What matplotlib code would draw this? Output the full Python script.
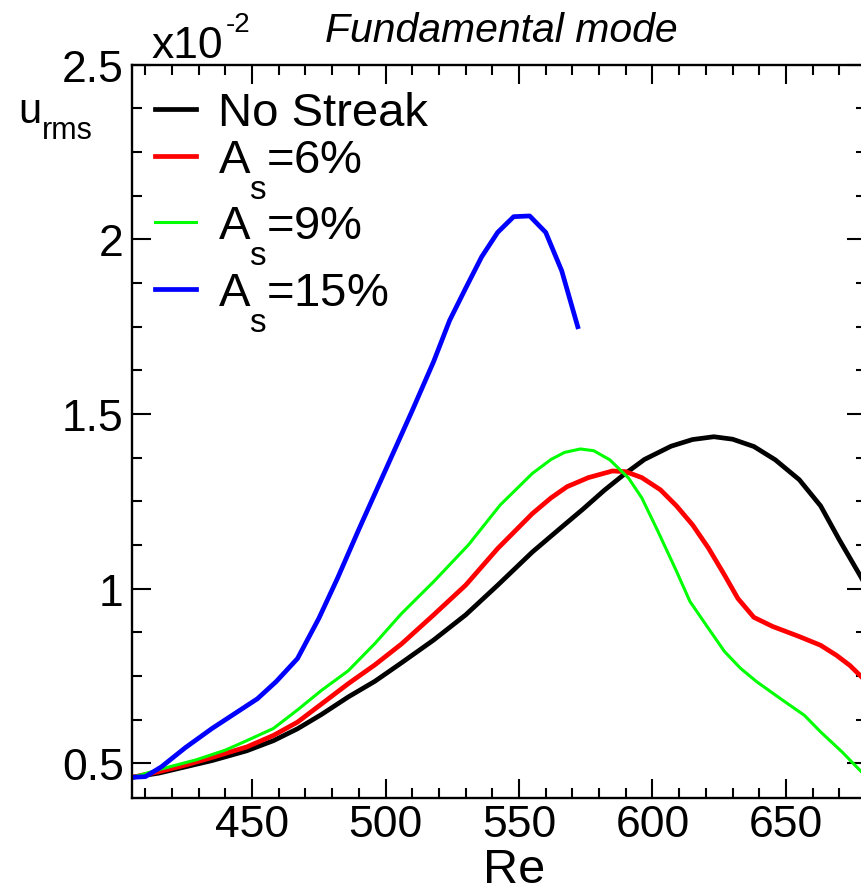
import matplotlib
matplotlib.use("Agg")
import matplotlib.pyplot as plt
from matplotlib.ticker import MultipleLocator, FuncFormatter

plt.rcParams['font.family'] = ['Liberation Sans', 'DejaVu Sans']
plt.rcParams['mathtext.fontset'] = 'custom'
plt.rcParams['mathtext.rm'] = 'Liberation Sans'
plt.rcParams['mathtext.it'] = 'Liberation Sans:italic'

# u_rms (x1e-2) against Re for the fundamental mode
re_none = [405, 415, 425, 435, 448, 458, 467, 476, 486, 496, 506, 518, 530, 542,
           555, 565, 574, 582, 589, 597, 607, 615, 623, 630, 638, 646, 655, 663,
           670, 678, 682]
u_none = [0.46, 0.472, 0.49, 0.508, 0.536, 0.565, 0.599, 0.64, 0.69, 0.735, 0.788,
          0.853, 0.925, 1.01, 1.105, 1.17, 1.228, 1.282, 1.325, 1.37, 1.408, 1.427,
          1.435, 1.428, 1.407, 1.369, 1.312, 1.237, 1.14, 1.035, 0.98]

re_6 = [405, 415, 425, 435, 448, 458, 467, 476, 486, 496, 506, 518, 530, 542, 555,
        562, 568, 576, 585, 590, 596, 603, 609, 615, 621, 627, 632, 638, 645, 655,
        663, 669, 674, 678, 682]
u_6 = [0.46, 0.476, 0.495, 0.517, 0.547, 0.58, 0.618, 0.67, 0.728, 0.782, 0.842,
       0.925, 1.01, 1.115, 1.215, 1.26, 1.292, 1.318, 1.337, 1.335, 1.318, 1.283,
       1.237, 1.183, 1.116, 1.039, 0.972, 0.918, 0.892, 0.863, 0.838, 0.809, 0.78,
       0.75, 0.72]

re_9 = [405, 415, 429, 440, 448, 458, 467, 476, 486, 496, 506, 518, 531, 543, 555,
        562, 567, 573, 578, 584, 591, 596, 602, 609, 614, 621, 627, 633, 639, 648,
        657, 663, 671, 678, 682]
u_9 = [0.46, 0.482, 0.51, 0.538, 0.565, 0.6, 0.653, 0.709, 0.765, 0.843, 0.929,
       1.02, 1.125, 1.24, 1.33, 1.37, 1.39, 1.40, 1.395, 1.369, 1.317, 1.26, 1.165,
       1.05, 0.964, 0.886, 0.82, 0.772, 0.734, 0.685, 0.637, 0.59, 0.533, 0.478, 0.45]

re_15 = [405, 410, 416, 425, 435, 445, 452, 459, 467, 475, 482, 490, 500, 510, 518,
         524, 530, 536, 542, 548, 554, 560, 566, 572]
u_15 = [0.46, 0.462, 0.49, 0.545, 0.60, 0.65, 0.685, 0.734, 0.80, 0.915, 1.03,
        1.17, 1.34, 1.51, 1.65, 1.768, 1.86, 1.95, 2.02, 2.065, 2.067, 2.02, 1.91, 1.75]

# subscript s hangs well below the baseline
labels = ['No Streak', r'A$\underset{\rm s}{}$=6%', r'A$\underset{\rm s}{}$=9%',
          r'A$\underset{\rm s}{}$=15%']

W, H = 861, 895
fig = plt.figure(figsize=(W / 100, H / 100), dpi=100)
# right spine sits just past the figure edge
ax = fig.add_axes([132 / W, (H - 799.3) / H, (866 - 132) / W, (799.3 - 65.7) / H])

ax.plot(re_none, u_none, color='#000000', lw=3.4, label=labels[0])
ax.plot(re_6, u_6, color='#ff0000', lw=3.4, label=labels[1])
ax.plot(re_9, u_9, color='#00ff00', lw=2.2, label=labels[2])
ax.plot(re_15, u_15, color='#0000ff', lw=3.4, label=labels[3])

ax.set_xlim(405, 680)
ax.set_ylim(0.4, 2.5)
ax.xaxis.set_major_locator(MultipleLocator(50))
ax.xaxis.set_minor_locator(MultipleLocator(10))
ax.yaxis.set_major_locator(MultipleLocator(0.5))
ax.yaxis.set_minor_locator(MultipleLocator(0.125))
ax.yaxis.set_major_formatter(FuncFormatter(lambda v, p: '{:g}'.format(v)))

ax.tick_params(which='both', direction='in', top=True, right=True, width=1.5,
               labelsize=32)
ax.tick_params(which='major', length=14)
ax.tick_params(which='minor', length=7)
ax.tick_params(axis='x', pad=4)
ax.tick_params(axis='y', pad=6)
for sp in ax.spines.values():
    sp.set_linewidth(1.7)

ax.set_xlabel('Re', fontsize=35)
ax.xaxis.set_label_coords(0.52, -0.066)

fig.text(18 / W, 1 - 123 / H, 'u', fontsize=30)
fig.text(42 / W, 1 - 139 / H, 'rms', fontsize=22)
fig.text(151 / W, 1 - 58 / H, 'x10', fontsize=32)
fig.text(226 / W, 1 - 32 / H, '-2', fontsize=20)
fig.text(501 / W, 1 - 42 / H, 'Fundamental mode', fontsize=29.5, style='italic',
         ha='center')

ax.legend(loc='upper left', bbox_to_anchor=(0.031, 0.964), frameon=False,
          fontsize=34, handlelength=0.88, handletextpad=0.45, labelspacing=0.08,
          borderpad=0, borderaxespad=0)

fig.savefig('out.png', dpi=100)
